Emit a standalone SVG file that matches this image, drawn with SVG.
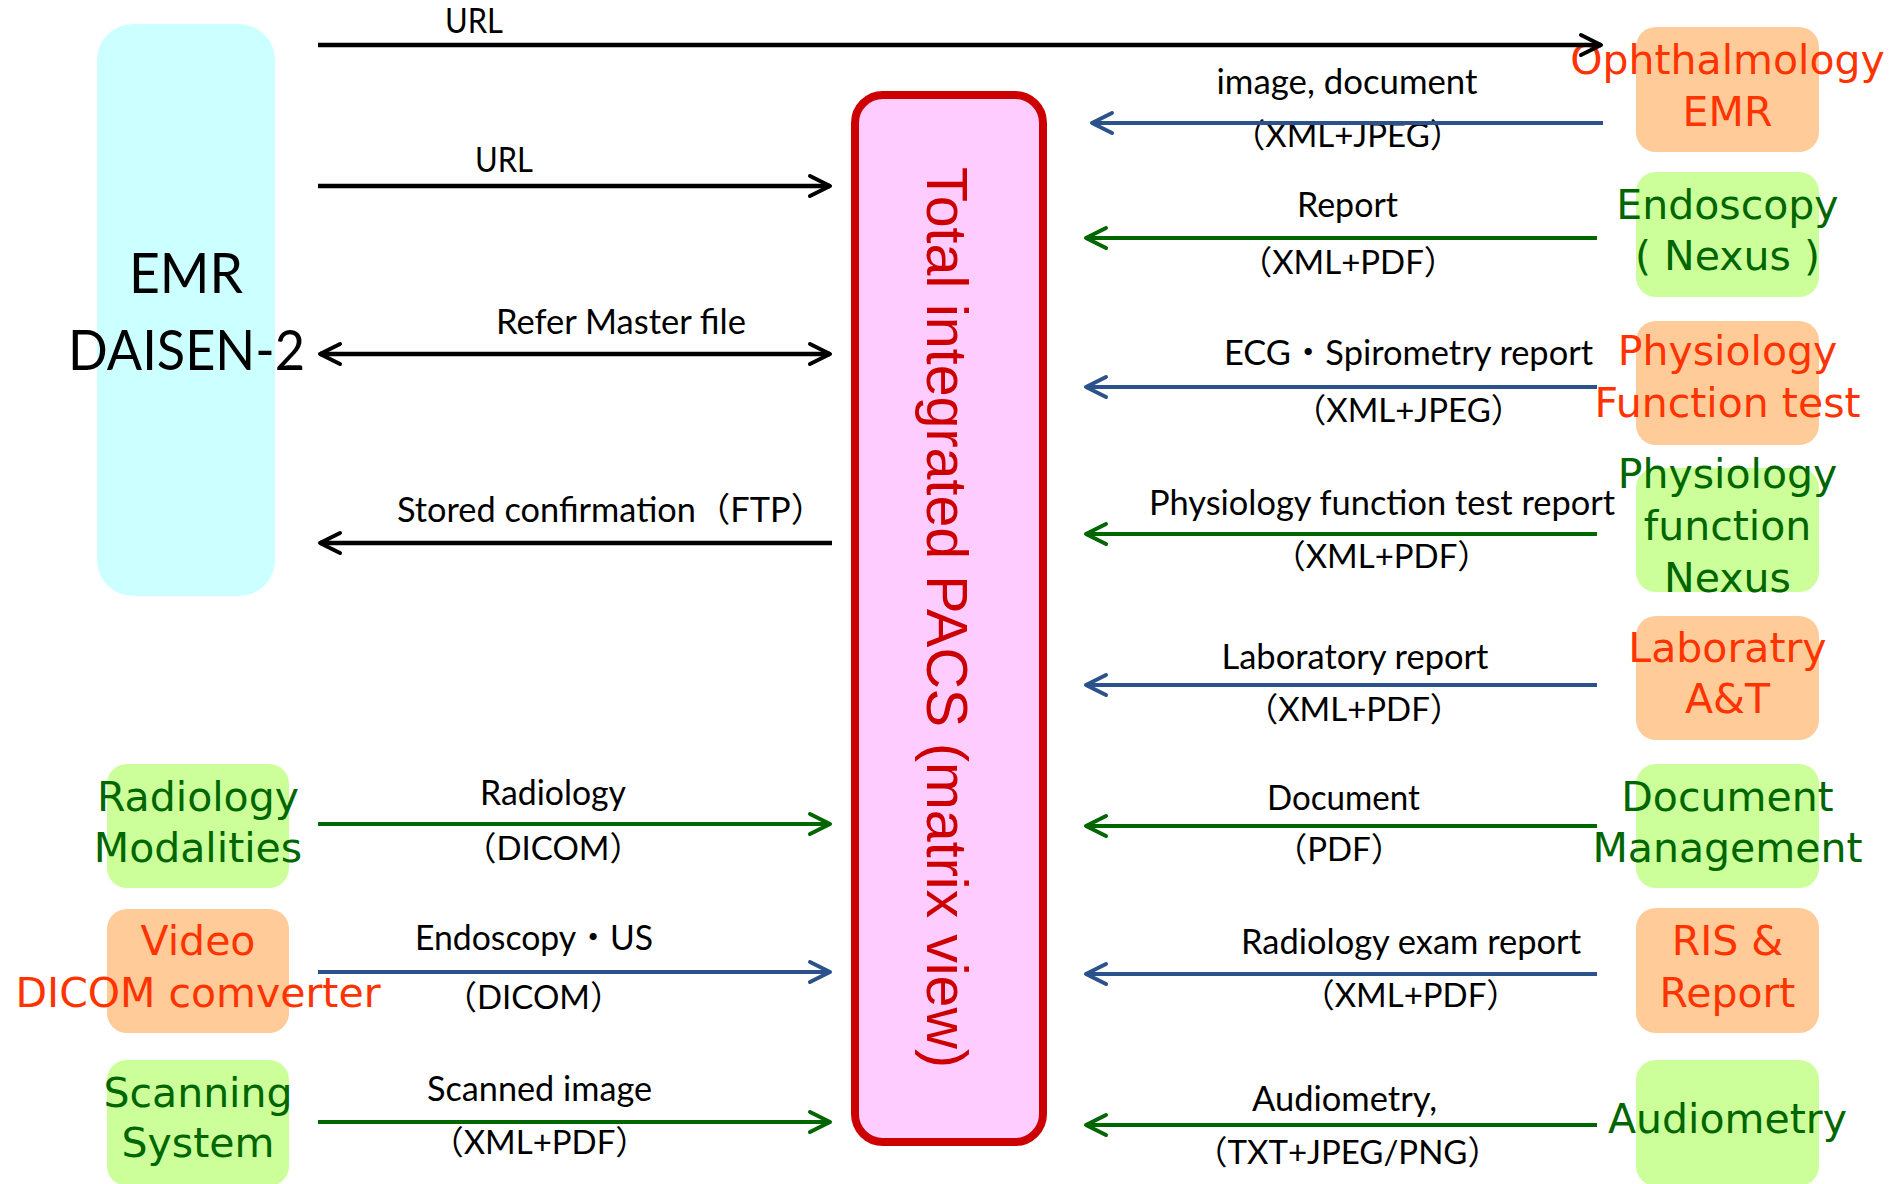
<svg xmlns="http://www.w3.org/2000/svg" width="1904" height="1184" viewBox="0 0 1904 1184">
  <style>
    .lbl { font-family: Lato, 'Noto Sans CJK JP', sans-serif; font-size: 34px; fill: #000; text-anchor: middle; }
    .lbl .fmt { font-size: 33px; }
    .nd { font-family: Verdana, 'DejaVu Sans', sans-serif; font-size: 41px; text-anchor: middle; }
    .or rect { fill: #FFCC99; }
    .or text { fill: #FF3300; }
    .gr rect { fill: #CCFF99; }
    .gr text { fill: #006600; }
    .ln { fill: none; stroke-width: 4; }
    .k { stroke: #000; stroke-width: 4.5; }
    .b { stroke: #2C528C; }
    .g { stroke: #006600; }
  </style>
  <defs>
    <marker id="ah-k" markerUnits="userSpaceOnUse" markerWidth="30" markerHeight="30" refX="24" refY="15" orient="auto-start-reverse">
      <path d="M4,5 L24,15 L4,25" fill="none" stroke="#000" stroke-width="4" stroke-linecap="round" stroke-linejoin="round"/>
    </marker>
    <marker id="ah-b" markerUnits="userSpaceOnUse" markerWidth="30" markerHeight="30" refX="24" refY="15" orient="auto-start-reverse">
      <path d="M4,5 L24,15 L4,25" fill="none" stroke="#2C528C" stroke-width="4" stroke-linecap="round" stroke-linejoin="round"/>
    </marker>
    <marker id="ah-g" markerUnits="userSpaceOnUse" markerWidth="30" markerHeight="30" refX="24" refY="15" orient="auto-start-reverse">
      <path d="M4,5 L24,15 L4,25" fill="none" stroke="#006600" stroke-width="4" stroke-linecap="round" stroke-linejoin="round"/>
    </marker>
  </defs>

  <rect width="1904" height="1184" fill="#fff"/>

  <!-- central archive -->
  <g id="pacs">
    <rect x="855" y="95" width="188" height="1047" rx="28" fill="#FFCCFF" stroke="#CC0000" stroke-width="8"/>
    <text transform="translate(927,617.5) rotate(90)" font-family="'Liberation Sans', Arial, sans-serif" font-size="58" fill="#CC0000" text-anchor="middle" textLength="901" lengthAdjust="spacingAndGlyphs">Total integrated PACS (matrix view)</text>
  </g>

  <!-- hospital EMR -->
  <g id="emr">
    <rect x="97" y="24" width="178" height="572" rx="36" fill="#CCFFFF"/>
    <text x="186" y="293" font-family="Lato, sans-serif" font-size="56" text-anchor="middle" textLength="114" lengthAdjust="spacingAndGlyphs">EMR</text>
    <text x="186.5" y="370" font-family="Lato, sans-serif" font-size="56" text-anchor="middle" textLength="237" lengthAdjust="spacingAndGlyphs">DAISEN-2</text>
  </g>

  <!-- left side systems -->
  <g id="radiology-modalities" class="gr nd">
    <rect x="107" y="764" width="182" height="124" rx="20"/>
    <text x="198" y="811">Radiology</text>
    <text x="198" y="862">Modalities</text>
  </g>
  <g id="video-dicom" class="or nd">
    <rect x="107" y="909" width="182" height="124" rx="20"/>
    <text x="198" y="955">Video</text>
    <text x="198" y="1007">DICOM comverter</text>
  </g>
  <g id="scanning" class="gr nd">
    <rect x="107" y="1060" width="182" height="126" rx="20"/>
    <text x="198" y="1107">Scanning</text>
    <text x="198" y="1157">System</text>
  </g>

  <!-- right side systems -->
  <g id="ophthalmology-emr" class="or nd">
    <rect x="1636" y="27" width="183" height="125" rx="20"/>
    <text x="1727.5" y="74">Ophthalmology</text>
    <text x="1727.5" y="126">EMR</text>
  </g>
  <g id="endoscopy-nexus" class="gr nd">
    <rect x="1636" y="172" width="183" height="125" rx="20"/>
    <text x="1727.5" y="219">Endoscopy</text>
    <text x="1727.5" y="270">( Nexus )</text>
  </g>
  <g id="physiology-test" class="or nd">
    <rect x="1636" y="321" width="183" height="124" rx="20"/>
    <text x="1727.5" y="365">Physiology</text>
    <text x="1727.5" y="417">Function test</text>
  </g>
  <g id="physiology-nexus" class="gr nd">
    <rect x="1636" y="468" width="183" height="124" rx="20"/>
    <text x="1727.5" y="488">Physiology</text>
    <text x="1727.5" y="540">function</text>
    <text x="1727.5" y="592">Nexus</text>
  </g>
  <g id="laboratory" class="or nd">
    <rect x="1636" y="616" width="183" height="124" rx="20"/>
    <text x="1727.5" y="662">Laboratry</text>
    <text x="1727.5" y="713">A&amp;T</text>
  </g>
  <g id="document-management" class="gr nd">
    <rect x="1636" y="764" width="183" height="124" rx="20"/>
    <text x="1727.5" y="811">Document</text>
    <text x="1727.5" y="862">Management</text>
  </g>
  <g id="ris-report" class="or nd">
    <rect x="1636" y="908" width="183" height="125" rx="20"/>
    <text x="1727.5" y="955">RIS &amp;</text>
    <text x="1727.5" y="1007">Report</text>
  </g>
  <g id="audiometry" class="gr nd">
    <rect x="1636" y="1060" width="183" height="126" rx="20"/>
    <text x="1727.5" y="1133">Audiometry</text>
  </g>

  <!-- connectors with their labels -->
  <g id="connectors">
    <g class="lbl">
      <text x="474" y="33" textLength="58" lengthAdjust="spacingAndGlyphs">URL</text>
      <text x="504" y="172" textLength="58" lengthAdjust="spacingAndGlyphs">URL</text>
      <text x="621" y="334" textLength="250" lengthAdjust="spacingAndGlyphs">Refer Master file</text>
      <text x="397" y="522" text-anchor="start" textLength="428" lengthAdjust="spacingAndGlyphs">Stored confirmation（FTP）</text>

      <text x="553" y="805" textLength="146" lengthAdjust="spacingAndGlyphs">Radiology</text>
      <text class="fmt" x="553" y="860">（DICOM）</text>
      <text x="534" y="950" textLength="238" lengthAdjust="spacingAndGlyphs">Endoscopy・US</text>
      <text class="fmt" x="533.5" y="1009">（DICOM）</text>
      <text x="539.5" y="1101" textLength="225" lengthAdjust="spacingAndGlyphs">Scanned image</text>
      <text class="fmt" x="539.5" y="1154">（XML+PDF）</text>

      <text x="1347" y="94" textLength="261" lengthAdjust="spacingAndGlyphs">image, document</text>
      <text class="fmt" x="1347.5" y="147">（XML+JPEG）</text>
      <text x="1347.5" y="217" textLength="101" lengthAdjust="spacingAndGlyphs">Report</text>
      <text class="fmt" x="1348" y="274">（XML+PDF）</text>
      <text x="1408.5" y="365" textLength="369" lengthAdjust="spacingAndGlyphs">ECG・Spirometry report</text>
      <text class="fmt" x="1408.5" y="422">（XML+JPEG）</text>
      <text x="1382" y="515" textLength="466" lengthAdjust="spacingAndGlyphs">Physiology function test report</text>
      <text class="fmt" x="1381.5" y="568">（XML+PDF）</text>
      <text x="1355" y="669" textLength="267" lengthAdjust="spacingAndGlyphs">Laboratory report</text>
      <text class="fmt" x="1354" y="721">（XML+PDF）</text>
      <text x="1343.5" y="810" textLength="153" lengthAdjust="spacingAndGlyphs">Document</text>
      <text class="fmt" x="1339" y="861">（PDF）</text>
      <text x="1411" y="954" textLength="340" lengthAdjust="spacingAndGlyphs">Radiology exam report</text>
      <text class="fmt" x="1410.5" y="1007">（XML+PDF）</text>
      <text x="1344.5" y="1111" textLength="185" lengthAdjust="spacingAndGlyphs">Audiometry,</text>
      <text class="fmt" x="1347.5" y="1164">（TXT+JPEG/PNG）</text>
    </g>

    <!-- EMR side -->
    <line class="ln k" x1="318" y1="45" x2="1601" y2="45" marker-end="url(#ah-k)"/>
    <line class="ln k" x1="318" y1="186" x2="830" y2="186" marker-end="url(#ah-k)"/>
    <line class="ln k" x1="320" y1="354" x2="830" y2="354" marker-start="url(#ah-k)" marker-end="url(#ah-k)"/>
    <line class="ln k" x1="832" y1="543" x2="320" y2="543" marker-end="url(#ah-k)"/>

    <!-- modality side -->
    <line class="ln g" x1="318" y1="824" x2="830" y2="824" marker-end="url(#ah-g)"/>
    <line class="ln b" x1="318" y1="972" x2="830" y2="972" marker-end="url(#ah-b)"/>
    <line class="ln g" x1="318" y1="1122" x2="830" y2="1122" marker-end="url(#ah-g)"/>

    <!-- departmental systems -->
    <line class="ln b" x1="1603" y1="123" x2="1092" y2="123" marker-end="url(#ah-b)"/>
    <line class="ln g" x1="1597" y1="238" x2="1086" y2="238" marker-end="url(#ah-g)"/>
    <line class="ln b" x1="1597" y1="387" x2="1086" y2="387" marker-end="url(#ah-b)"/>
    <line class="ln g" x1="1597" y1="534" x2="1086" y2="534" marker-end="url(#ah-g)"/>
    <line class="ln b" x1="1597" y1="685" x2="1086" y2="685" marker-end="url(#ah-b)"/>
    <line class="ln g" x1="1597" y1="826" x2="1086" y2="826" marker-end="url(#ah-g)"/>
    <line class="ln b" x1="1597" y1="974" x2="1086" y2="974" marker-end="url(#ah-b)"/>
    <line class="ln g" x1="1597" y1="1125" x2="1086" y2="1125" marker-end="url(#ah-g)"/>
  </g>
</svg>
